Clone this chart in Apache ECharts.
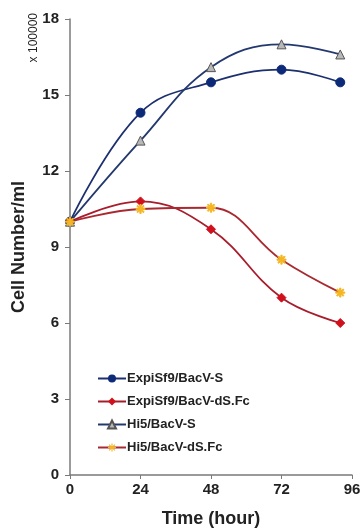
<!DOCTYPE html>
<html><head><meta charset="utf-8">
<script src="https://cdn.jsdelivr.net/npm/echarts@6/dist/echarts.min.js"></script>
<style>html,body{margin:0;padding:0;background:#fff}#c{width:361px;height:529px}</style>
</head><body><div id="c"></div>
<script>
const hours = [0, 24, 48, 72, 92];
const expiS = [10, 14.3, 15.5, 16.0, 15.5];
const expiDS = [10, 10.8, 9.7, 7.0, 6.0];
const hi5S = [10, 13.2, 16.1, 17.0, 16.6];
const hi5DS = [10, 10.5, 10.55, 8.5, 7.2];
const xTicks = [0, 24, 48, 72, 96];
const yTicks = [0, 3, 6, 9, 12, 15, 18];

const pair = arr => hours.map((h, i) => [h, arr[i]]);
const star = 'path://M4.3,0H5.7V3.3L8.1,0.9L9.1,1.9L6.7,4.3H10V5.7H6.7L9.1,8.1L8.1,9.1L5.7,6.7V10H4.3V6.7L1.9,9.1L0.9,8.1L3.3,5.7H0V4.3H3.3L0.9,1.9L1.9,0.9L4.3,3.3Z';
const font = 'Liberation Sans, Arial, sans-serif';
const chart = echarts.init(document.getElementById('c'));
chart.setOption({
  animation: false,
  backgroundColor: '#fff',
  grid: {left: 70, right: 9, top: 19, bottom: 54, containLabel: false, outerBoundsMode: 'none'},
  xAxis: {
    type: 'value', min: 0, max: 96, interval: 24,
    axisLine: {lineStyle: {color: '#7a7a7a', width: 1.5}},
    axisTick: {show: true, length: 4, lineStyle: {color: '#7a7a7a'}},
    splitLine: {show: false},
    axisLabel: {color: '#222', fontSize: 15, fontWeight: 'bold', fontFamily: font, margin: 7,
      formatter: v => xTicks.includes(v) ? String(v) : ''},
    name: 'Time (hour)', nameLocation: 'middle', nameGap: 35,
    nameTextStyle: {color: '#222', fontSize: 18, fontWeight: 'bold', fontFamily: font}
  },
  yAxis: {
    type: 'value', min: 0, max: 18, interval: 3,
    axisLine: {show: true, lineStyle: {color: '#7a7a7a', width: 1.5}},
    axisTick: {show: true, length: 5, lineStyle: {color: '#7a7a7a'}},
    splitLine: {show: false},
    axisLabel: {color: '#222', fontSize: 15, fontWeight: 'bold', fontFamily: font, margin: 11,
      formatter: v => yTicks.includes(v) ? String(v) : ''},
    name: 'Cell Number/ml', nameLocation: 'middle', nameGap: 42, nameRotate: 90,
    nameTextStyle: {color: '#222', fontSize: 18, fontWeight: 'bold', fontFamily: font}
  },
  graphic: [{
    type: 'text', left: 28, top: 13, rotation: Math.PI / 2,
    style: {text: 'x 100000', fontSize: 12, fill: '#222', fontFamily: font}
  }],
  legend: {
    orient: 'vertical', left: 92, top: 367, itemGap: 10, itemWidth: 28, itemHeight: 10,
    textStyle: {color: '#222', fontSize: 13, fontWeight: 'bold', fontFamily: font, padding: [0,0,0,-4]},
    data: ['ExpiSf9/BacV-S', 'ExpiSf9/BacV-dS.Fc', 'Hi5/BacV-S', 'Hi5/BacV-dS.Fc']
  },
  series: [
    {name: 'ExpiSf9/BacV-S', type: 'line', smooth: 0.4, data: pair(expiS),
      symbol: 'circle', symbolSize: 9,
      lineStyle: {color: '#1c2f6e', width: 1.8}, itemStyle: {color: '#0d2a78', borderColor: '#0d2a78'}},
    {name: 'ExpiSf9/BacV-dS.Fc', type: 'line', smooth: 0.4, data: pair(expiDS),
      symbol: 'diamond', symbolSize: 9,
      lineStyle: {color: '#a81c2c', width: 1.8}, itemStyle: {color: '#d0101c', borderColor: '#d0101c'}},
    {name: 'Hi5/BacV-S', type: 'line', smooth: 0.4, data: pair(hi5S),
      symbol: 'triangle', symbolSize: 9,
      lineStyle: {color: '#23386e', width: 1.8}, itemStyle: {color: '#b8b8b8', borderColor: '#555', borderWidth: 1}},
    {name: 'Hi5/BacV-dS.Fc', type: 'line', smooth: 0.4, data: pair(hi5DS),
      symbol: star, symbolSize: 9,
      lineStyle: {color: '#a82a30', width: 1.8}, itemStyle: {color: '#f5b622', borderColor: '#f5b622'}}
  ]
});
</script></body></html>
